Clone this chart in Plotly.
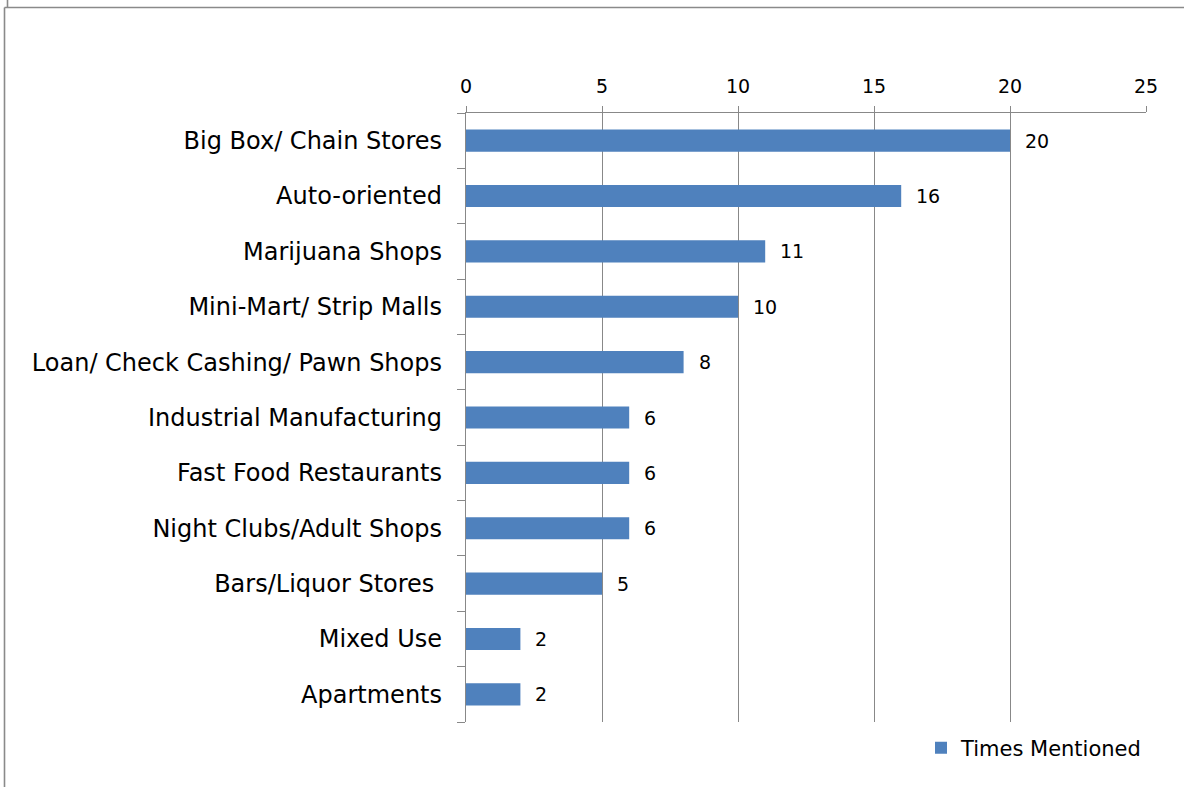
import plotly.graph_objects as go

# Survey responses: business types mentioned as undesirable
categories = [
    "Big Box/ Chain Stores",
    "Auto-oriented",
    "Marijuana Shops",
    "Mini-Mart/ Strip Malls",
    "Loan/ Check Cashing/ Pawn Shops",
    "Industrial Manufacturing",
    "Fast Food Restaurants",
    "Night Clubs/Adult Shops",
    "Bars/Liquor Stores ",
    "Mixed Use",
    "Apartments",
]
times_mentioned = [20, 16, 11, 10, 8, 6, 6, 6, 5, 2, 2]
x_ticks = [0, 5, 10, 15, 20, 25]

FONT = "'DejaVu Sans', sans-serif"
GRID = "#888888"
BAR = "#4F81BD"

fig = go.Figure(
    go.Bar(
        x=times_mentioned,
        y=categories,
        orientation="h",
        name="Times Mentioned",
        marker=dict(color=BAR, line=dict(width=0)),
        width=0.4,
        showlegend=True,
    )
)

# value labels just past the end of each bar
for cat, v in zip(categories, times_mentioned):
    fig.add_annotation(
        x=v, y=cat, xref="x", yref="y",
        text=str(v), showarrow=False,
        xanchor="left", yanchor="middle", xshift=13,
        font=dict(family=FONT, size=19, color="#000000"),
    )

W, H = 1184, 787
L, R, T, B = 466, 38, 113, 65
pw, ph = W - L - R, H - T - B

def px_to_paper_x(px):
    return (px - L) / pw

def px_to_paper_y(py):
    return (H - B - py) / ph

fig.update_layout(
    width=W,
    height=H,
    margin=dict(l=L, r=R, t=T, b=B, pad=0),
    paper_bgcolor="white",
    plot_bgcolor="white",
    font=dict(family=FONT, color="#000000"),
    xaxis=dict(
        side="top",
        range=[0, 25],
        tickvals=x_ticks,
        ticktext=[str(v) for v in x_ticks],
        tickfont=dict(family=FONT, size=19, color="#000000"),
        ticklabelstandoff=5,
        showgrid=True,
        gridcolor=GRID,
        gridwidth=1.4,
        showline=True,
        linecolor=GRID,
        linewidth=1.4,
        ticks="outside",
        ticklen=6,
        tickcolor=GRID,
        tickwidth=1.4,
        zeroline=False,
        fixedrange=True,
    ),
    yaxis=dict(
        type="category",
        categoryorder="array",
        categoryarray=categories[::-1],
        autorange=False,
        range=[-0.5, len(categories) - 0.5],
        tickfont=dict(family=FONT, size=24, color="#000000"),
        showline=True,
        linecolor=GRID,
        linewidth=1.4,
        ticks="outside",
        tickson="boundaries",
        ticklen=8,
        tickcolor=GRID,
        tickwidth=1.4,
        ticklabelstandoff=18,
        showgrid=False,
        zeroline=False,
        fixedrange=True,
    ),
    legend=dict(
        x=px_to_paper_x(1147),
        xanchor="right",
        y=px_to_paper_y(748),
        yanchor="middle",
        font=dict(family=FONT, size=21, color="#000000"),
        itemwidth=30,
        bgcolor="rgba(0,0,0,0)",
    ),
    shapes=[
        # outer chart frame
        dict(type="line", xref="paper", yref="paper",
             x0=px_to_paper_x(4.5), x1=px_to_paper_x(1184),
             y0=px_to_paper_y(7.5), y1=px_to_paper_y(7.5),
             line=dict(color="#8a8a8a", width=1.6)),
        dict(type="line", xref="paper", yref="paper",
             x0=px_to_paper_x(4.5), x1=px_to_paper_x(4.5),
             y0=px_to_paper_y(7.5), y1=px_to_paper_y(787),
             line=dict(color="#8a8a8a", width=1.6)),
        dict(type="line", xref="paper", yref="paper",
             x0=px_to_paper_x(7.5), x1=px_to_paper_x(7.5),
             y0=px_to_paper_y(0), y1=px_to_paper_y(7.5),
             line=dict(color="#8a8a8a", width=1.6)),
    ],
)

fig.write_html("out.html")
